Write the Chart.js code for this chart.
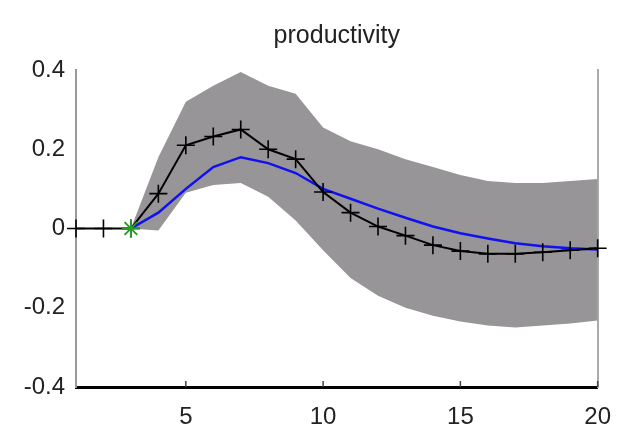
<!DOCTYPE html>
<html>
<head>
<meta charset="utf-8">
<script src="https://cdn.jsdelivr.net/npm/chart.js@4/dist/chart.umd.min.js"></script>
<style>
  html, body { margin: 0; padding: 0; background: #fff; }
  #wrap { width: 627px; height: 442px; }
</style>
</head>
<body>
<div id="wrap"><canvas id="irfChart"></canvas></div>
<script>
// horizon (quarters)
const periods = [1, 2, 3, 4, 5, 6, 7, 8, 9, 10, 11, 12, 13, 14, 15, 16, 17, 18, 19, 20];
// response with + markers (black)
const respMarked = [0, 0, 0, 0.088, 0.21, 0.232, 0.25, 0.2, 0.175, 0.092, 0.04, 0.005, -0.018, -0.042, -0.057, -0.064, -0.064, -0.06, -0.055, -0.05];
// median response (blue)
const respMedian = [null, null, 0, 0.04, 0.1, 0.155, 0.18, 0.165, 0.14, 0.1, 0.075, 0.05, 0.027, 0.005, -0.012, -0.025, -0.037, -0.045, -0.05, -0.053];
// confidence band
const bandUpper = [null, null, 0, 0.18, 0.32, 0.36, 0.395, 0.36, 0.34, 0.255, 0.22, 0.2, 0.175, 0.155, 0.135, 0.12, 0.115, 0.115, 0.12, 0.125];
const bandLower = [null, null, 0, -0.005, 0.09, 0.11, 0.115, 0.08, 0.02, -0.055, -0.125, -0.17, -0.2, -0.22, -0.235, -0.245, -0.25, -0.245, -0.24, -0.232];
// shock point (green star)
const shockX = [3];
const shockY = [0];

const xTicks = [5, 10, 15, 20];
const yTicks = [-0.4, -0.2, 0, 0.2, 0.4];

function pts(ys) {
    return periods.map(function(p, i) { return { x: p, y: ys[i] }; });
}

// petits traits de graduation vers l'intérieur, comme sous matlab
const innerTicks = {
    id: 'innerTicks',
    afterDatasetsDraw(chart) {
        const ctx = chart.ctx;
        const xs = chart.scales.x;
        const bottom = chart.chartArea.bottom;
        ctx.save();
        ctx.strokeStyle = '#444';
        ctx.lineWidth = 1.5;
        xTicks.forEach(function(v) {
            const px = xs.getPixelForValue(v);
            ctx.beginPath();
            ctx.moveTo(px, bottom);
            ctx.lineTo(px, bottom - 6);
            ctx.stroke();
        });
        ctx.restore();
    }
};

const font = "'Liberation Sans', Arial, sans-serif";

new Chart(document.getElementById('irfChart').getContext('2d'), {
    type: 'line',
    data: {
        datasets: [
            {
                label: 'shock',
                data: shockX.map(function(x, i) { return { x: x, y: shockY[i] }; }),
                showLine: false,
                pointStyle: 'star',
                pointRadius: 9,
                borderColor: '#2a9a2a',
                backgroundColor: '#2a9a2a',
                pointBorderWidth: 2,
                clip: false,
                order: 0
            },
            {
                label: 'response',
                data: pts(respMarked),
                borderColor: '#000',
                borderWidth: 2,
                pointStyle: 'cross',
                pointRadius: 9,
                pointBorderWidth: 1.6,
                pointBorderColor: '#000',
                tension: 0,
                clip: false,
                order: 1
            },
            {
                label: 'median',
                data: pts(respMedian),
                borderColor: '#1010f0',
                borderWidth: 2.5,
                pointRadius: 0,
                tension: 0,
                order: 2
            },
            {
                label: 'upper',
                data: pts(bandUpper),
                borderWidth: 0,
                borderColor: 'rgba(0,0,0,0)',
                backgroundColor: '#979597',
                pointRadius: 0,
                fill: '+1',
                tension: 0,
                order: 3
            },
            {
                label: 'lower',
                data: pts(bandLower),
                borderWidth: 0,
                borderColor: 'rgba(0,0,0,0)',
                pointRadius: 0,
                fill: false,
                tension: 0,
                order: 4
            }
        ]
    },
    options: {
        responsive: true,
        maintainAspectRatio: false,
        animation: false,
        layout: { padding: 0 },
        scales: {
            x: {
                type: 'linear',
                min: 1,
                max: 20,
                afterBuildTicks: function(s) { s.ticks = xTicks.map(function(v) { return { value: v }; }); },
                afterFit: function(s) { s.height = 55; },
                grid: { display: false, drawTicks: false },
                border: { display: true, color: '#000', width: 3 },
                ticks: {
                    padding: 16,
                    color: '#222',
                    font: { family: font, size: 24 },
                    maxRotation: 0
                }
            },
            y: {
                min: -0.4,
                max: 0.4,
                afterBuildTicks: function(s) { s.ticks = yTicks.map(function(v) { return { value: v }; }); },
                afterFit: function(s) { s.width = 76; },
                grid: { display: false, drawTicks: false },
                border: { display: true, color: '#999', width: 2 },
                ticks: {
                    padding: 11,
                    color: '#222',
                    font: { family: font, size: 24 },
                    callback: function(v) { return String(v); }
                }
            },
            yRight: {
                position: 'right',
                min: -0.4,
                max: 0.4,
                afterFit: function(s) { s.width = 26; },
                grid: { display: false, drawTicks: false },
                border: { display: true, color: '#aaa', width: 2 },
                ticks: { display: false }
            }
        },
        plugins: {
            legend: { display: false },
            tooltip: { enabled: false },
            title: {
                display: true,
                text: 'productivity',
                fullSize: false,
                color: '#222',
                font: { family: font, size: 25, weight: 'normal' },
                padding: { top: 21, bottom: 19 }
            }
        }
    },
    plugins: [innerTicks]
});
</script>
</body>
</html>
